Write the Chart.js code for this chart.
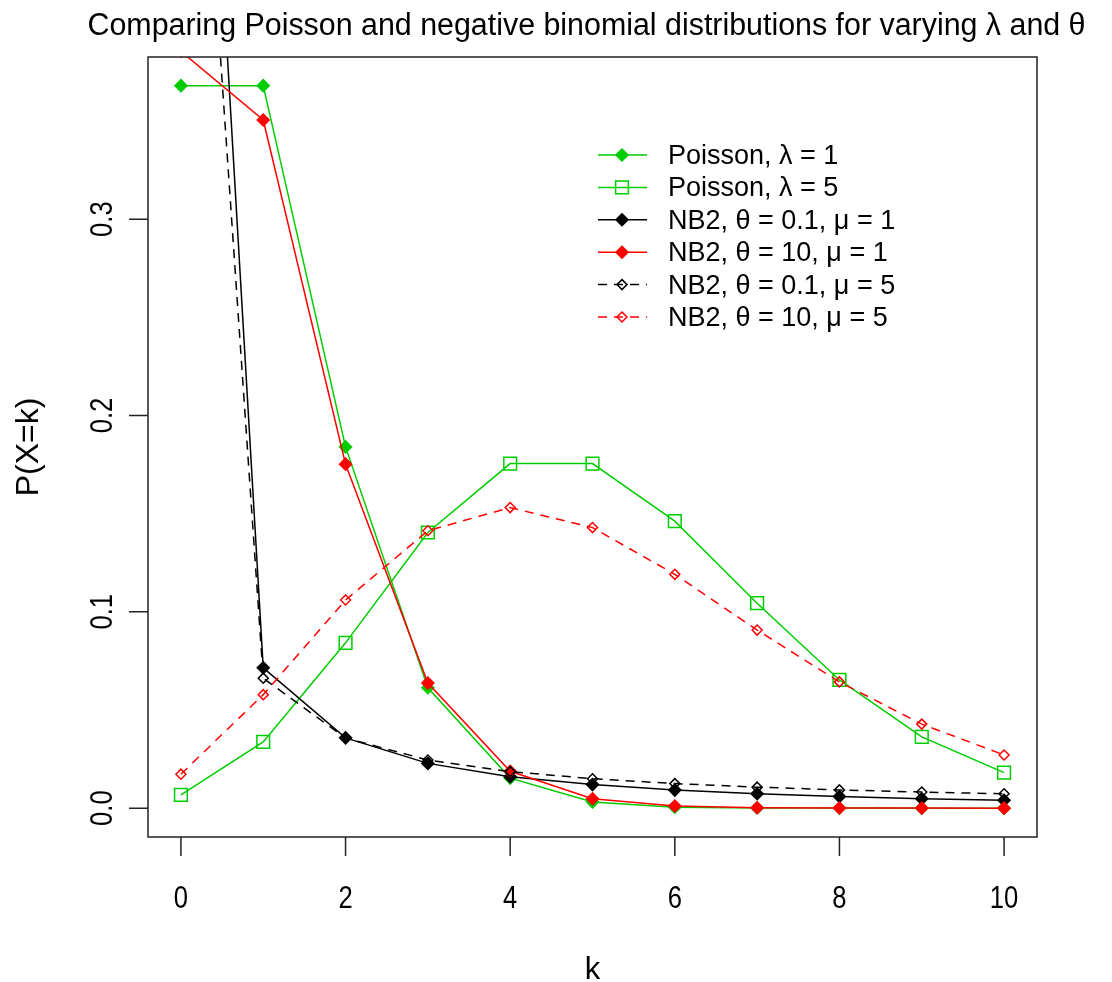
<!DOCTYPE html>
<html>
<head>
<meta charset="utf-8">
<title>Poisson vs binomial negativa</title>
<script src="https://cdn.jsdelivr.net/npm/chart.js@4/dist/chart.umd.min.js"></script>
<style>
    html, body { margin: 0; padding: 0; background: #fff; }
    #wrap { width: 1112px; height: 982px; }
</style>
</head>
<body>
<div id="wrap"><canvas id="chart" width="1112" height="982"></canvas></div>
<script>
// Valores
const ks = [0, 1, 2, 3, 4, 5, 6, 7, 8, 9, 10];
const poissonL1 = [0.368, 0.368, 0.184, 0.0613, 0.0153, 0.0031, 0.0005, 0.00007, 0.00001, 0, 0];
const poissonL5 = [0.0067, 0.0337, 0.0842, 0.1404, 0.1755, 0.1755, 0.1462, 0.1044, 0.0653, 0.0363, 0.0181];
const nbT01M1 = [0.787, 0.0715, 0.0358, 0.0228, 0.016, 0.012, 0.0092, 0.0073, 0.0059, 0.0048, 0.004];
const nbT10M1 = [0.3855, 0.3505, 0.1752, 0.0637, 0.0188, 0.0048, 0.0011, 0.0002, 0.00004, 0.00001, 0];
const nbT01M5 = [0.675, 0.0662, 0.0357, 0.0245, 0.0186, 0.015, 0.0125, 0.0107, 0.0093, 0.0082, 0.0073];
const nbT10M5 = [0.0173, 0.0578, 0.106, 0.1413, 0.1531, 0.1429, 0.1191, 0.0907, 0.0643, 0.0428, 0.0271];

const seriesLabels = [
    'Poisson, λ = 1',
    'Poisson, λ = 5',
    'NB2, θ = 0.1, μ = 1',
    'NB2, θ = 10, μ = 1',
    'NB2, θ = 0.1, μ = 5',
    'NB2, θ = 10, μ = 5'
];
const xTicks = [0, 2, 4, 6, 8, 10];
const xTickLabels = ['0', '2', '4', '6', '8', '10'];
const yTicks = [0, 0.1, 0.2, 0.3];
const yTickLabels = ['0.0', '0.1', '0.2', '0.3'];

const titleText = 'Comparing Poisson and negative binomial distributions for varying λ and θ';
const xTitle = 'k';
const yTitle = 'P(X=k)';

const GREEN = '#00cd00';
const RED = '#ff0000';
const BLACK = '#000000';
const FONT = '"Liberation Sans", Arial, sans-serif';

// Estilo de cada série (cor, traço, marcador)
const series = [
    { values: poissonL1, color: GREEN, dash: [], shape: 'rectRot', r: 6, filled: true },
    { values: poissonL5, color: GREEN, dash: [], shape: 'rect', r: 9, filled: false },
    { values: nbT01M1, color: BLACK, dash: [], shape: 'rectRot', r: 6, filled: true },
    { values: nbT10M1, color: RED, dash: [], shape: 'rectRot', r: 6, filled: true },
    { values: nbT01M5, color: BLACK, dash: [9, 7], shape: 'rectRot', r: 5, filled: false },
    { values: nbT10M5, color: RED, dash: [9, 7], shape: 'rectRot', r: 5, filled: false }
];

function drawText(ctx, s, x, y, size, align, baseline, rot, sx) {
    ctx.save();
    ctx.translate(x, y);
    if (rot) ctx.rotate(rot);
    if (sx) ctx.scale(sx, 1);
    ctx.font = size + 'px ' + FONT;
    ctx.textAlign = align;
    ctx.textBaseline = baseline;
    ctx.fillStyle = '#000';
    ctx.fillText(s, 0, 0);
    ctx.restore();
}

function drawMarker(ctx, shape, x, y, r, filled, color) {
    ctx.save();
    ctx.setLineDash([]);
    ctx.beginPath();
    if (shape === 'rect') {
        const h = r * Math.SQRT1_2;
        ctx.rect(x - h, y - h, 2 * h, 2 * h);
    } else {
        ctx.moveTo(x, y - r);
        ctx.lineTo(x + r, y);
        ctx.lineTo(x, y + r);
        ctx.lineTo(x - r, y);
        ctx.closePath();
    }
    ctx.lineWidth = 1.5;
    ctx.strokeStyle = color;
    if (filled) {
        ctx.fillStyle = color;
        ctx.fill();
    }
    ctx.stroke();
    ctx.restore();
}

// Moldura, marcas dos eixos, textos e legenda
const moldura = {
    id: 'moldura',
    afterDraw(chart) {
        const { ctx, chartArea: a, scales: { x, y } } = chart;
        ctx.save();
        ctx.strokeStyle = '#222';
        ctx.lineWidth = 1.5;
        ctx.strokeRect(a.left, a.top, a.right - a.left, a.bottom - a.top);

        ctx.beginPath();
        xTicks.forEach(v => {
            const px = x.getPixelForValue(v);
            ctx.moveTo(px, a.bottom);
            ctx.lineTo(px, a.bottom + 19);
        });
        yTicks.forEach(v => {
            const py = y.getPixelForValue(v);
            ctx.moveTo(a.left, py);
            ctx.lineTo(a.left - 19, py);
        });
        ctx.stroke();
        ctx.restore();

        xTicks.forEach((v, i) => {
            drawText(ctx, xTickLabels[i], x.getPixelForValue(v), 908, 32, 'center', 'alphabetic', 0, 0.8);
        });
        yTicks.forEach((v, i) => {
            drawText(ctx, yTickLabels[i], 112, y.getPixelForValue(v), 32, 'center', 'alphabetic', -Math.PI / 2, 0.8);
        });

        const cx = (a.left + a.right) / 2;
        const cy = (a.top + a.bottom) / 2;
        drawText(ctx, titleText, cx - 6, 35, 31, 'center', 'alphabetic', 0, 0.98);
        drawText(ctx, xTitle, cx, 979, 31, 'center', 'alphabetic', 0, 0);
        drawText(ctx, yTitle, 38, cy, 32, 'center', 'alphabetic', -Math.PI / 2, 0);

        // Legenda
        seriesLabels.forEach((lab, i) => {
            const s = series[i];
            const ly = 155 + i * 32.4;
            ctx.save();
            ctx.strokeStyle = s.color;
            ctx.lineWidth = 1.5;
            ctx.setLineDash(s.dash);
            ctx.beginPath();
            ctx.moveTo(598, ly);
            ctx.lineTo(647, ly);
            ctx.stroke();
            ctx.restore();
            drawMarker(ctx, s.shape, 622, ly, s.r, s.filled, s.color);
            drawText(ctx, lab, 668, ly + 9, 27, 'left', 'alphabetic', 0, 0);
        });
    }
};

new Chart(document.getElementById('chart'), {
    type: 'line',
    data: {
        datasets: series.map((s, i) => ({
            label: seriesLabels[i],
            data: ks.map((k, j) => ({ x: k, y: s.values[j] })),
            borderColor: s.color,
            backgroundColor: s.filled ? s.color : 'rgba(0,0,0,0)',
            pointBorderColor: s.color,
            pointBackgroundColor: s.filled ? s.color : 'rgba(0,0,0,0)',
            pointStyle: s.shape,
            pointRadius: s.r,
            pointBorderWidth: 1.5,
            borderWidth: 1.5,
            borderDash: s.dash,
            tension: 0,
            fill: false,
            order: series.length - i
        }))
    },
    options: {
        responsive: false,
        animation: false,
        events: [],
        layout: { padding: { left: 148, top: 57, right: 75, bottom: 145 } },
        scales: {
            x: { type: 'linear', min: -0.4, max: 10.4, display: false },
            y: { type: 'linear', min: -0.0147, max: 0.3826, display: false }
        },
        plugins: {
            legend: { display: false },
            tooltip: { enabled: false }
        }
    },
    plugins: [moldura]
});
</script>
</body>
</html>
